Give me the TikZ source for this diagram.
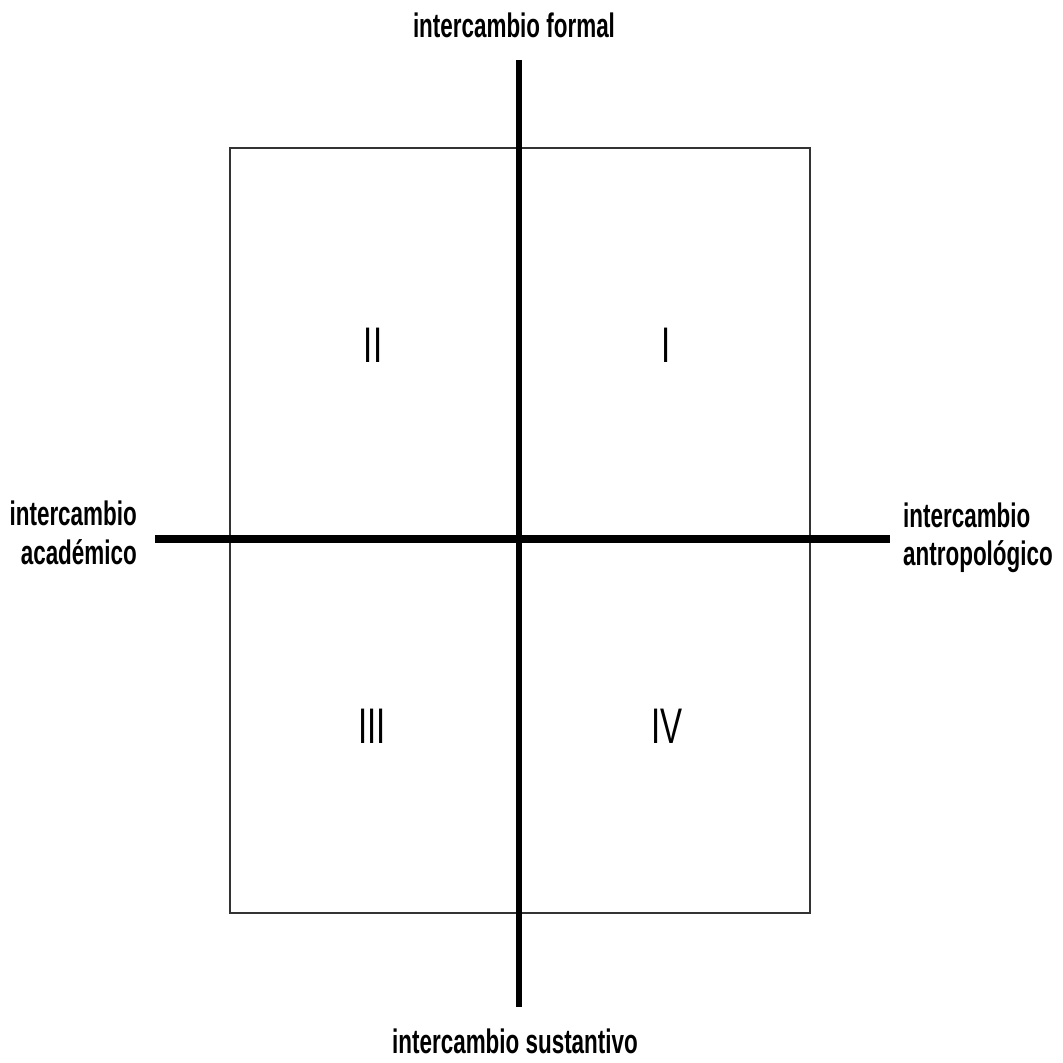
\documentclass[tikz,border=0pt]{standalone}
\usepackage{fontspec}
\newfontfamily\labfont[FakeStretch=0.66]{Liberation Sans Bold}
\newfontfamily\numfont[FakeStretch=0.66]{Liberation Sans}
\begin{document}
\begin{tikzpicture}[x=1pt,y=-1pt,
  lab/.style={inner sep=0pt,font=\labfont\fontsize{34}{38}\selectfont},
  num/.style={inner sep=0pt,font=\numfont\fontsize{50}{54}\selectfont},
  axis/.style={line width=6.5pt,black},
  frame/.style={line width=1.8pt,black!80}]
\useasboundingbox (0,0) rectangle (1063,1063);
\fill[white] (0,0) rectangle (1063,1063);
% frame
\draw[frame] (230,148) rectangle (810,913);
% axes
\coordinate (vt) at (519,60);
\coordinate (vb) at (519,1007);
\coordinate (hl) at (155,539);
\coordinate (hr) at (890,539);
\draw[axis] (vt) -- (vb);
\draw[axis,line width=7.5pt] (hl) -- (hr);
% labels
\node[lab,anchor=base] (top) at (514,37) {intercambio formal};
\node[lab,anchor=base] (bot) at (515,1053) {intercambio sustantivo};
\node[lab,anchor=base east] (l1) at (137,525) {intercambio};
\node[lab,anchor=base east] (l2) at (137,564) {académico};
\node[lab,anchor=base west] (r1) at (903,527) {intercambio};
\node[lab,anchor=base west] (r2) at (903,565) {antropológico};
% numerals
\node[num] (q2) at (373,345) {II};
\node[num] (q1) at (666,345) {I};
\node[num] (q3) at (372,726) {III};
\node[num] (q4) at (667,726) {IV};
\end{tikzpicture}
\end{document}
